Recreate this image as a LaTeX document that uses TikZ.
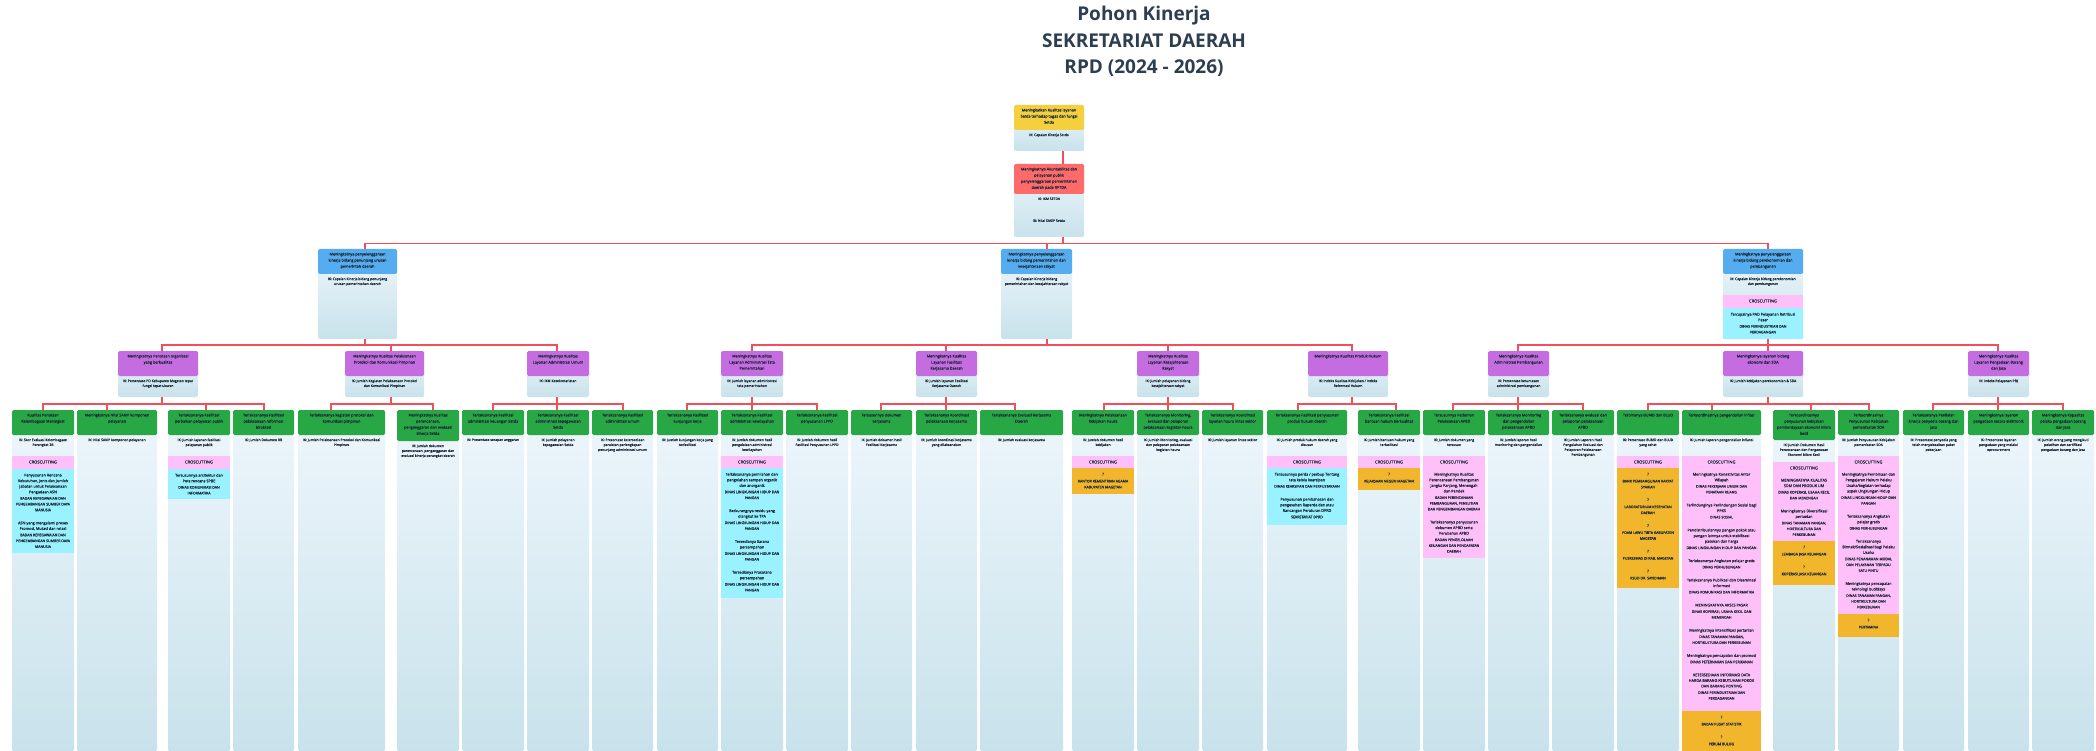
\documentclass[tikz,border=0pt]{standalone}
\usepackage{fontspec}
\setmainfont{Open Sans}
\newfontfamily\medface[FakeBold=0.25]{Open Sans}
\newfontfamily\heavyface[FakeBold=0.75]{Open Sans}
\definecolor{ink}{HTML}{1C2B38}
\definecolor{titleink}{HTML}{2C3E50}
\definecolor{wire}{HTML}{F0505A}
\definecolor{hY}{HTML}{F4D03F}
\definecolor{hR}{HTML}{FF6B6B}
\definecolor{hB}{HTML}{55ACEE}
\definecolor{hP}{HTML}{C56CE0}
\definecolor{hG}{HTML}{28A745}
\definecolor{cPink}{HTML}{FFC0FA}
\definecolor{cCyan}{HTML}{9AF1FF}
\definecolor{cOrange}{HTML}{F1B62B}
\definecolor{bTop}{HTML}{EEF6FC}
\definecolor{bBot}{HTML}{C8E2EB}
\tikzset{
  boxbase/.style={inner sep=0pt,outer sep=0pt,rounded corners=1.5pt,text=ink},
  bodybox/.style={boxbase,top color=bTop,bottom color=bBot},
  headY/.style={boxbase,fill=hY},
  headR/.style={boxbase,fill=hR},
  headB/.style={boxbase,fill=hB},
  headP/.style={boxbase,fill=hP},
  headG/.style={boxbase,fill=hG},
  pinkbox/.style={boxbase,fill=cPink,rounded corners=0pt},
  cyanbox/.style={boxbase,fill=cCyan,rounded corners=0pt},
  orangebox/.style={boxbase,fill=cOrange,rounded corners=0pt},
  link/.style={draw=wire,line width=1.1pt},
  linkthick/.style={draw=wire,line width=1.7pt},
}
\newcommand{\headfont}{\heavyface\fontsize{3.75}{6.1}\selectfont}
\newcommand{\bodyfont}{\medface\fontsize{3.4}{4.9}\selectfont}
\def\parseTriX#1,#2,#3\relax{\def\cXa{#1}\def\cXb{#2}\def\cXc{#3}}
\def\parseTriY#1,#2,#3\relax{\def\cYa{#1}\def\cYb{#2}\def\cYc{#3}}
\def\parsePairX#1,#2\relax{\def\cXa{#1}\def\cXb{#2}}
\def\parsePairY#1,#2\relax{\def\cYa{#1}\def\cYb{#2}}
% name, {x1,x2,cx}, {ytop,yhead,ybot}, head style, head text, body text
\newcommand{\card}[6]{%
  \parseTriX#2\relax\parseTriY#3\relax
  \pgfmathsetmacro\cW{\cXb-\cXa}%
  \pgfmathsetmacro\cH{\cYb-\cYa}%
  \pgfmathsetmacro\cT{\cYc-\cYa}%
  \node[bodybox,anchor=north west] (#1-b) at (\cXa,\cYa)
    {\parbox[b][\cT pt][t]{\cW pt}{\centering\bodyfont\vspace*{\cH pt}\vspace*{3.5pt}#6\par}};
  \node[#4,anchor=north west] (#1) at (\cXa,\cYa)
    {\parbox[b][\cH pt][t]{\cW pt}{\centering\headfont\vspace*{3.6pt}#5\par}};
  \coordinate (#1-t) at (\cXc,\cYa);
  \coordinate (#1-o) at (\cXc,\cYc);
}
% name, {x1,x2}, {y1,y2}, style, content
\newcommand{\block}[5]{%
  \parsePairX#2\relax\parsePairY#3\relax
  \pgfmathsetmacro\cW{\cXb-\cXa}%
  \pgfmathsetmacro\cH{\cYb-\cYa}%
  \node[#4,anchor=north west] (#1) at (\cXa,\cYa)
    {\parbox[b][\cH pt][t]{\cW pt}{\centering\vspace*{4.8pt}#5\par}};
}
\newcommand{\crossbox}[3]{\block{#1}{#2}{#3}{pinkbox}{\vspace*{-0.3pt}{\medface\fontsize{4.1}{5}\selectfont CROSCUTTING\par}}}
\newcommand{\itx}[1]{{\medface\fontsize{3.75}{5.6}\selectfont #1\par}\vspace{0.6pt}}
\newcommand{\iorg}[1]{{\heavyface\fontsize{3.55}{5.8}\selectfont #1\par}\vspace{7.4pt}}
\newcommand{\oitem}[1]{{\heavyface\fontsize{3.55}{5.9}\selectfont ?\\[1.2pt] #1\par}\vspace{6.8pt}}
% parent, bus y, style, children
\newcommand{\busdown}[4]{%
  \coordinate (#1-bus) at (0,#2);
  \foreach \kid in {#4}{\draw[#3] (#1-o) -- (#1-o |- #1-bus) -| (\kid-t);}
}
\begin{document}
\begin{tikzpicture}[x=1pt,y=-1pt]
\useasboundingbox (0,0) rectangle (2096,751);
\node[text=titleink,font=\fontsize{19}{26.5}\selectfont\bfseries,align=center,anchor=north] (title) at (1144,3)
  {Pohon Kinerja\\SEKRETARIAT DAERAH\\RPD (2024 - 2026)};

% root
\card{root}{1014,1084,1063}{105,130,151}{headY}{Meningkatkan Kualitas layanan\\Setda terhadap tugas dan fungsi\\Setda}{IK: Capaian Kinerja Setda}
\card{goal}{1014,1084,1063}{164,194,237}{headR}{Meningkatnya Akuntabilitas dan\\pelayanan publik\\penyelenggaraan pemerintahan\\daerah pada RPTDA}{IK: IKM SETDA\\[17pt]IK: Nilai SAKIP Setda}

% level 2
\card{sA}{318,397,365}{249,274,339}{headB}{Meningkatnya penyelenggaraan\\kinerja bidang penunjang urusan\\pemerintah daerah}{IK: Capaian Kinerja bidang penunjang\\urusan pemerintahan daerah}
\card{sB}{1001,1072,1047}{249,274,339}{headB}{Meningkatnya penyelenggaraan\\kinerja bidang pemerintahan dan\\kesejahteraan rakyat}{IK: Capaian Kinerja bidang\\pemerintahan dan kesejahteraan rakyat}
\card{sC}{1723,1803,1768}{249,274,339}{headB}{Meningkatnya penyelenggaraan\\kinerja bidang perekonomian dan\\pembangunan}{IK: Capaian Kinerja bidang perekonomian\\dan pembangunan}
\crossbox{sCx}{1723,1803}{295,308}
\block{sCc}{1723,1803}{308,339}{cyanbox}{\itx{Tercapainya PAD Pelayanan Retribusi\\Pasar}\iorg{DINAS PERINDUSTRIAN DAN\\PERDAGANGAN}}

% level 3
\card{pA}{118,198,162}{351,376,397}{headP}{Meningkatnya Penataan organisasi\\yang berkualitas}{IK: Persentase PD Kabupaten Magetan tepat\\fungsi tepat ukuran}
\card{pB}{345,424,391}{351,376,397}{headP}{Meningkatnya Kualitas Pelaksanaan\\Protokol dan Komunikasi Pimpinan}{IK: Jumlah Kegiatan Pelaksanaan Protokol\\dan Komunikasi Pimpinan}
\card{pC}{527,589,557}{351,376,397}{headP}{Meningkatnya Kualitas\\Layanan Administrasi Umum}{IK: IKM Kesekretariatan}
\card{pD}{721,783,752}{351,376,397}{headP}{Meningkatnya Kualitas\\Layanan Administrasi Tata\\Pemerintahan}{IK: Jumlah layanan administrasi\\tata pemerintahan}
\card{pE}{916,977,946}{351,376,397}{headP}{Meningkatnya Kualitas\\Layanan Fasilitasi\\Kerjasama Daerah}{IK: Jumlah layanan Fasilitasi\\Kerjasama Daerah}
\card{pF}{1137,1199,1168}{351,376,397}{headP}{Meningkatnya Kualitas\\Layanan Kesejahteraan\\Rakyat}{IK: Jumlah pelayanan bidang\\kesejahteraan rakyat}
\card{pG}{1308,1388,1352}{351,376,397}{headP}{Meningkatnya Kualitas Produk Hukum}{IK: Indeks Kualitas Kebijakan / Indeks\\Reformasi Hukum}
\card{pH}{1488,1549,1518}{351,376,397}{headP}{Meningkatnya Kualitas\\Administrasi Pembangunan}{IK: Persentase ketuntasan\\administrasi pembangunan}
\card{pI}{1723,1803,1768}{351,376,397}{headP}{Meningkatnya layanan bidang\\ekonomi dan SDA}{IK: Jumlah kebijakan perekonomian \& SDA}
\card{pJ}{1968,2029,1998}{351,376,397}{headP}{Meningkatnya Kualitas\\Layanan Pengadaan Barang\\dan Jasa}{IK: Indeks Pelayanan PBJ}

% level 4
\card{ta}{12,74,43}{410,435,751}{headG}{Kualitas Penataan\\Kelembagaan Meningkat}{IK: Skor Evaluasi Kelembagaan\\Perangkat 2B}
\crossbox{tax}{12,74}{456,469}
\block{tac}{12,74}{469,553}{cyanbox}{\itx{Penyusunan Rencana\\Kebutuhan, Jenis dan Jumlah\\Jabatan untuk Pelaksanaan\\Pengadaan ASN}\iorg{BADAN KEPEGAWAIAN DAN\\PENGEMBANGAN SUMBER DAYA\\MANUSIA}\itx{ASN yang mengalami proses\\Promosi, Mutasi dan rotasi}\iorg{BADAN KEPEGAWAIAN DAN\\PENGEMBANGAN SUMBER DAYA\\MANUSIA}}
\card{tb}{77,157,107}{410,435,751}{headG}{Meningkatnya Nilai SAKIP komponen\\pelayanan}{IK: Nilai SAKIP komponen pelayanan}
\card{tc}{168,230,206}{410,435,751}{headG}{Terlaksananya Fasilitasi\\perbaikan pelayanan publik}{IK: Jumlah layanan fasilitasi\\pelayanan publik}
\crossbox{tcx}{168,230}{456,469}
\block{tcc}{168,230}{469,499}{cyanbox}{\itx{Tersusunnya arsitektur dan\\Peta rencana SPBE}\iorg{DINAS KOMUNIKASI DAN\\INFORMATIKA}}
\card{td}{233,294,264}{410,435,751}{headG}{Terlaksananya Fasilitasi\\pelaksanaan reformasi\\birokrasi}{IK: Jumlah Dokumen RB}
\card{te}{298,385,331}{410,435,751}{headG}{Terlaksananya kegiatan protokol dan\\komunikasi pimpinan}{IK: Jumlah Pelaksanaan Protokol dan Komunikasi\\Pimpinan}
\card{tf}{397,459,433}{410,441,751}{headG}{Meningkatnya kualitas\\perencanaan,\\penganggaran dan evaluasi\\kinerja Setda}{IK: Jumlah dokumen\\perencanaan, penganggaran dan\\evaluasi kinerja perangkat daerah}
\card{tg}{462,524,493}{410,435,751}{headG}{Terlaksananya Fasilitasi\\administrasi keuangan Setda}{IK: Presentase serapan anggaran}
\card{th}{527,589,557}{410,435,751}{headG}{Terlaksananya Fasilitasi\\administrasi kepegawaian\\Setda}{IK: Jumlah pelayanan\\kepegawaian Setda}
\card{ti}{592,653,623}{410,435,751}{headG}{Terlaksananya Fasilitasi\\administrasi umum}{IK: Presentase ketersediaan\\peralatan perlengkapan\\penunjang administrasi umum}
\card{tj}{657,718,687}{410,435,751}{headG}{Terlaksananya Fasilitasi\\kunjungan kerja}{IK: Jumlah kunjungan kerja yang\\terfasilitasi}
\card{tk}{721,783,752}{410,435,751}{headG}{Terlaksananya Fasilitasi\\administrasi kewilayahan}{IK: Jumlah dokumen hasil\\pengelolaan administrasi\\kewilayahan}
\crossbox{tkx}{721,783}{456,468}
\block{tkc}{721,783}{468,598}{cyanbox}{\itx{terlaksananya pemilahan dan\\pengolahan sampah organik\\dan anorganik}\iorg{DINAS LINGKUNGAN HIDUP DAN\\PANGAN}\itx{Berkurangnya residu yang\\diangkut ke TPA}\iorg{DINAS LINGKUNGAN HIDUP DAN\\PANGAN}\itx{Tersedianya Sarana\\persampahan}\iorg{DINAS LINGKUNGAN HIDUP DAN\\PANGAN}\itx{Tersedianya Prasarana\\persampahan}\iorg{DINAS LINGKUNGAN HIDUP DAN\\PANGAN}}
\card{tl}{786,848,817}{410,435,751}{headG}{Terlaksananya Fasilitasi\\penyusunan LPPD}{IK: Jumlah dokumen hasil\\Fasilitasi Penyusunan LPPD}
\card{tm}{851,912,881}{410,435,751}{headG}{Tersusunnya dokumen\\kerjasama}{IK: Jumlah dokumen hasil\\Fasilitasi Kerjasama}
\card{tn}{916,977,946}{410,435,751}{headG}{Terlaksananya Koordinasi\\pelaksanaan kerjasama}{IK: Jumlah koordinasi kerjasama\\yang dilaksanakan}
\card{to}{980,1063,1015}{410,435,751}{headG}{Terlaksananya Evaluasi Kerjasama\\Daerah}{IK: Jumlah evaluasi kerjasama}
\card{tp}{1072,1134,1104}{410,435,751}{headG}{Meningkatnya Pelaksanaan\\Kebijakan Haura}{IK: Jumlah dokumen hasil\\kebijakan}
\crossbox{tpx}{1072,1134}{456,468}
\block{tpc}{1072,1134}{468,494}{orangebox}{\oitem{KANTOR KEMENTRIAN AGAMA\\KABUPATEN MAGETAN}}
\card{tq}{1137,1199,1168}{410,435,751}{headG}{Terlaksananya Monitoring,\\evaluasi dan pelaporan\\pelaksanaan kegiatan haura}{IK: Jumlah Monitoring, evaluasi\\dan pelaporan pelaksanaan\\kegiatan haura}
\card{tr}{1202,1263,1233}{410,435,751}{headG}{Terlaksananya Koordinasi\\layanan haura lintas sektor}{IK: Jumlah layanan lintas sektor}
\card{ts}{1267,1347,1298}{410,435,751}{headG}{Terlaksananya Fasilitasi penyusunan\\produk hukum daerah}{IK: Jumlah produk hukum daerah yang\\disusun}
\crossbox{tsx}{1267,1347}{456,468}
\block{tsc}{1267,1347}{468,525}{cyanbox}{\itx{Tersusunnya perda / perbup Tentang\\tata kelola kearsipan}\iorg{DINAS KEARSIPAN DAN PERPUSTAKAAN}\itx{Penyusunan pembahasan dan\\pengesahan Raperda dan atau\\Rancangan Peraturan DPRD}\iorg{SEKRETARIAT DPRD}}
\card{tt}{1358,1420,1396}{410,435,751}{headG}{Terlaksananya Fasilitasi\\bantuan hukum berkualitas}{IK: Jumlah bantuan hukum yang\\terfasilitasi}
\crossbox{ttx}{1358,1420}{456,468}
\block{ttc}{1358,1420}{468,490}{orangebox}{\oitem{KEJAKSAAN NEGERI MAGETAN}}
\card{tu}{1423,1485,1453}{410,435,751}{headG}{Tersusunnya Pedoman\\Pelaksanaan APBD}{IK: Jumlah dokumen yang\\tersusun}
\crossbox{tux}{1423,1485}{456,468}
\block{tuc}{1423,1485}{468,558}{pinkbox}{\itx{Meningkatnya Kualitas\\Perencanaan Pembangunan\\Jangka Panjang, Menengah\\dan Pendek}\iorg{BADAN PERENCANAAN\\PEMBANGUNAN, PENELITIAN\\DAN PENGEMBANGAN DAERAH}\itx{Terlaksananya penyusunan\\dokumen APBD serta\\Perubahan APBD}\iorg{BADAN PENGELOLAAN\\KEUANGAN DAN PENDAPATAN\\DAERAH}}
\card{tv}{1488,1549,1518}{410,435,751}{headG}{Terlaksananya Monitoring\\dan pengendalian\\pelaksanaan APBD}{IK: Jumlah laporan hasil\\monitoring dan pengendalian}
\card{tw}{1552,1614,1583}{410,435,751}{headG}{Terlaksananya evaluasi dan\\pelaporan pelaksanaan\\APBD}{IK: Jumlah Laporan Hasil\\Pengolahan Evaluasi dan\\Pelaporan Pelaksanaan\\Pembangunan}
\card{tx}{1617,1679,1648}{410,435,751}{headG}{Terbinanya BUMD dan BLUD}{IK: Persentase BUMD dan BLUD\\yang sehat}
\crossbox{txx}{1617,1679}{456,468}
\block{txc}{1617,1679}{468,588}{orangebox}{\oitem{BANK PEMBANGUNAN RAKYAT\\SYARIAH}\oitem{LABORATORIUM KESEHATAN\\DAERAH}\oitem{PDAM LAWU TIRTA KABUPATEN\\MAGETAN}\oitem{PUSKESMAS DI KAB. MAGETAN}\oitem{RSUD DR. SAYIDIMAN}}
\card{ty}{1682,1761,1712}{410,435,751}{headG}{Terkoordinasinya pengendalian inflasi}{IK: Jumlah laporan pengendalian inflansi}
\crossbox{tyx}{1682,1761}{456,468}
\block{tyc}{1682,1761}{468,711}{pinkbox}{\itx{Meningkatnya Konektivitas Antar\\Wilayah}\iorg{DINAS PEKERJAAN UMUM DAN\\PENATAAN RUANG}\itx{Terlindunginya Perlindungan Sosial bagi\\PPKS}\iorg{DINAS SOSIAL}\itx{Pendistribusiannya pangan pokok atau\\pangan lainnya untuk stabilisasi\\pasokan dan harga}\iorg{DINAS LINGKUNGAN HIDUP DAN PANGAN}\itx{Terlaksananya Angkutan pelajar gratis}\iorg{DINAS PERHUBUNGAN}\itx{Terlaksananya Publikasi dan Diseminasi\\informasi}\iorg{DINAS KOMUNIKASI DAN INFORMATIKA}\itx{MENINGKATNYA AKSES PASAR}\iorg{DINAS KOPERASI, USAHA KECIL DAN\\MENENGAH}\itx{Meningkatnya intensifikasi pertanian}\iorg{DINAS TANAMAN PANGAN,\\HORTIKULTURA DAN PERKEBUNAN}\itx{Meningkatnya pencapaian dan promosi}\iorg{DINAS PETERNAKAN DAN PERIKANAN}\itx{KETERSEDIAAN INFORMASI DATA\\HARGA BARANG KEBUTUHAN POKOK\\DAN BARANG PENTING}\iorg{DINAS PERINDUSTRIAN DAN\\PERDAGANGAN}}
\block{tyo}{1682,1761}{711,751}{orangebox}{\oitem{BADAN PUSAT STATISTIK}\oitem{PERUM BULOG}}
\card{tz}{1773,1835,1811}{410,440,751}{headG}{Terkoordinasinya\\penyusunan kebijakan\\pemberdayaan ekonomi mikro\\kecil}{IK: Jumlah Dokumen Hasil\\Perencanaan dan Pengawasan\\Ekonomi Mikro Kecil}
\crossbox{tzx}{1773,1835}{462,474}
\block{tzc}{1773,1835}{474,541}{pinkbox}{\itx{MENINGKATNYA KUALITAS\\SDM DAN PRODUK UM}\iorg{DINAS KOPERASI, USAHA KECIL\\DAN MENENGAH}\itx{Meningkatnya Diversifikasi\\pertanian}\iorg{DINAS TANAMAN PANGAN,\\HORTIKULTURA DAN\\PERKEBUNAN}}
\block{tzo}{1773,1835}{541,585}{orangebox}{\oitem{LEMBAGA JASA KEUANGAN}\oitem{KOPERASI JASA KEUANGAN}}
\card{tA}{1838,1899,1869}{410,435,751}{headG}{Terkoordinasinya\\Penyusunan Kebijakan\\pemanfaatan SDA}{IK: Jumlah Penyusunan Kebijakan\\pemanfaatan SDA}
\crossbox{tAx}{1838,1899}{456,468}
\block{tAc}{1838,1899}{468,614}{pinkbox}{\itx{Meningkatnya Pembinaan dan\\Pengajaran Hukum Pelaku\\Usaha/kegiatan terhadap\\aspek Lingkungan Hidup}\iorg{DINAS LINGKUNGAN HIDUP DAN\\PANGAN}\itx{Terlaksananya Angkutan\\pelajar gratis}\iorg{DINAS PERHUBUNGAN}\itx{Terlaksananya\\Bimtek/Sosialisasi bagi Pelaku\\Usaha}\iorg{DINAS PENANAMAN MODAL\\DAN PELAYANAN TERPADU\\SATU PINTU}\itx{Meningkatnya pencapaian\\teknologi budidaya}\iorg{DINAS TANAMAN PANGAN,\\HORTIKULTURA DAN\\PERKEBUNAN}}
\block{tAo}{1838,1899}{614,637}{orangebox}{\oitem{PERTAMINA}}
\card{tB}{1903,1964,1933}{410,435,751}{headG}{Terlaksananya Penilaian\\kinerja penyedia barang dan\\jasa}{IK: Presentase penyedia yang\\telah menyelesaikan paket\\pekerjaan}
\card{tC}{1968,2029,1998}{410,435,751}{headG}{Meningkatnya layanan\\pengadaan secara elektronik}{IK: Presentase layanan\\pengadaan yang melalui\\eprocurement}
\card{tD}{2032,2094,2063}{410,435,751}{headG}{Meningkatnya Kapasitas\\pelaku pengadaan barang\\dan jasa}{IK: Jumlah orang yang mengikuti\\pelatihan dan sertifikasi\\pengadaan barang dan jasa}

% connectors
\draw[link] (root-o) -- (goal-t);
\busdown{goal}{243.5}{link}{sA,sB,sC}
\busdown{sA}{345}{link}{pA,pB,pC}
\busdown{sB}{345}{link}{pD,pE,pF,pG}
\busdown{sC}{345}{link}{pH,pI,pJ}
\busdown{pA}{404}{linkthick}{ta,tb,tc,td}
\busdown{pB}{404}{linkthick}{te,tf}
\busdown{pC}{404}{linkthick}{tg,th,ti}
\busdown{pD}{404}{linkthick}{tj,tk,tl}
\busdown{pE}{404}{linkthick}{tm,tn,to}
\busdown{pF}{404}{linkthick}{tp,tq,tr}
\busdown{pG}{404}{linkthick}{ts,tt}
\busdown{pH}{404}{linkthick}{tu,tv,tw}
\busdown{pI}{404}{linkthick}{tx,ty,tz,tA}
\busdown{pJ}{404}{linkthick}{tB,tC,tD}
\end{tikzpicture}
\end{document}
